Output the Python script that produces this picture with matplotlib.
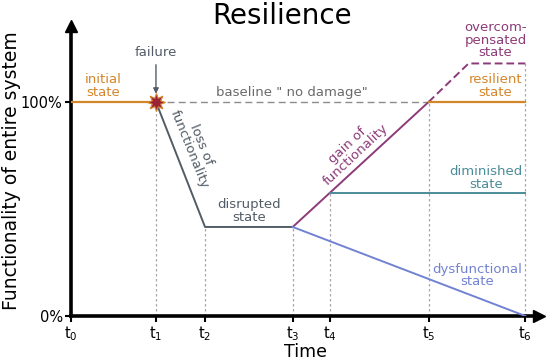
import matplotlib.pyplot as plt

# time points t0..t6 (arbitrary units) and functionality levels (1.0 = 100 %)
t = [0, 1.87, 2.95, 4.88, 5.69, 7.87, 10.0]
t_labels = [r'$\mathregular{t_%d}$' % i for i in range(7)]
full = 1.0
disrupted = 0.416
diminished = 0.575
overcomp = 1.18
overcomp_start = 8.75

orange = '#d4862b'
grey = '#525c66'
purple = '#8c3a78'
teal = '#4a8c99'
blue = '#7282d2'
dotted = '#a8a8a8'

fig = plt.figure(figsize=(5.5, 3.62), dpi=100)
ax = fig.add_axes([71 / 550, 46 / 362, 468 / 550, 290 / 362])
ax.set_xlim(0, 10.3)
ax.set_ylim(0, 1.355)

# vertical guide lines
guide_tops = [None, full, disrupted, disrupted, diminished, full, overcomp]
for ti, top in zip(t[1:], guide_tops[1:]):
    ax.plot([ti, ti], [0, top], ls=(0, (2, 2)), color=dotted, lw=0.9, zorder=1)

# baseline
ax.plot([t[1], t[5]], [full, full], ls=(0, (5, 3)), color='#8c8c8c', lw=1.0, zorder=2)
ax.text((t[1] + t[5]) / 2, 1.015, 'baseline " no damage"', ha='center', va='bottom',
        color='#6a6a6a', fontsize=9.5)

# initial state
ax.plot([t[0], t[1]], [full, full], color=orange, lw=1.6, zorder=3)
ax.text(0.7, 1.015, 'initial\nstate', ha='center', va='bottom', color=orange,
        fontsize=9.5, linespacing=0.95)

# loss of functionality
ax.plot([t[1], t[2], t[3]], [full, disrupted, disrupted], color=grey, lw=1.4, zorder=3)
ax.text(2.74, 0.79, 'loss of\nfunctionality', ha='center', va='center', rotation=-68,
        color=grey, fontsize=9.5, linespacing=0.95)
ax.text(3.92, 0.43, 'disrupted\nstate', ha='center', va='bottom', color=grey,
        fontsize=9.5, linespacing=0.95)

# recovery
ax.plot([t[3], t[5]], [disrupted, full], color=purple, lw=1.4, zorder=3)
ax.plot([t[5], overcomp_start, t[6]], [full, overcomp, overcomp], color=purple, lw=1.4,
        ls=(0, (4, 2)), zorder=3)
ax.text(6.17, 0.775, 'gain of\nfunctionality', ha='center', va='center', rotation=43,
        color=purple, fontsize=9.5, linespacing=0.95)
ax.text(9.34, 1.2, 'overcom-\npensated\nstate', ha='center', va='bottom', color=purple,
        fontsize=9.5, linespacing=0.95)

ax.plot([t[5], t[6]], [full, full], color=orange, lw=1.6, zorder=3)
ax.text(9.34, 1.015, 'resilient\nstate', ha='center', va='bottom', color=orange,
        fontsize=9.5, linespacing=0.95)

ax.plot([t[4], t[6]], [diminished, diminished], color=teal, lw=1.4, zorder=3)
ax.text(9.14, 0.585, 'diminished\nstate', ha='center', va='bottom', color=teal,
        fontsize=9.5, linespacing=0.95)

ax.plot([t[3], t[6]], [disrupted, 0], color=blue, lw=1.4, zorder=3)
ax.text(8.94, 0.19, 'dysfunctional\nstate', ha='center', va='center', color=blue,
        fontsize=9.5, linespacing=0.95)

# failure
ax.plot(t[1], full, marker=(8, 1, 0), ms=13, color='#9b2335', mec=orange, mew=0.8,
        zorder=5)
ax.annotate('failure', xy=(t[1], 1.025), xytext=(t[1], 1.2), ha='center', va='bottom',
            color=grey, fontsize=9.5,
            arrowprops=dict(arrowstyle='-|>', color=grey, lw=1.0, mutation_scale=8))

# axes with arrows
for s in ['top', 'right']:
    ax.spines[s].set_visible(False)
for s in ['left', 'bottom']:
    ax.spines[s].set_linewidth(2.6)
ax.plot(1, 0, '>k', ms=9, transform=ax.transAxes, clip_on=False)
ax.plot(0, 1, '^k', ms=9, transform=ax.transAxes, clip_on=False)

ax.set_xticks(t)
ax.set_xticklabels(t_labels, fontsize=10.5)
ax.set_yticks([0, full])
ax.set_yticklabels(['0%', '100%'], fontsize=10.5)
ax.tick_params(length=4, width=1.5, pad=2)

ax.set_xlabel('Time', fontsize=12.5, labelpad=0)
ax.set_ylabel('Functionality of entire system', fontsize=13.5, labelpad=0)
fig.text(0.513, 0.955, 'Resilience', ha='center', va='center', fontsize=20)

fig.savefig('out.png', dpi=100)
